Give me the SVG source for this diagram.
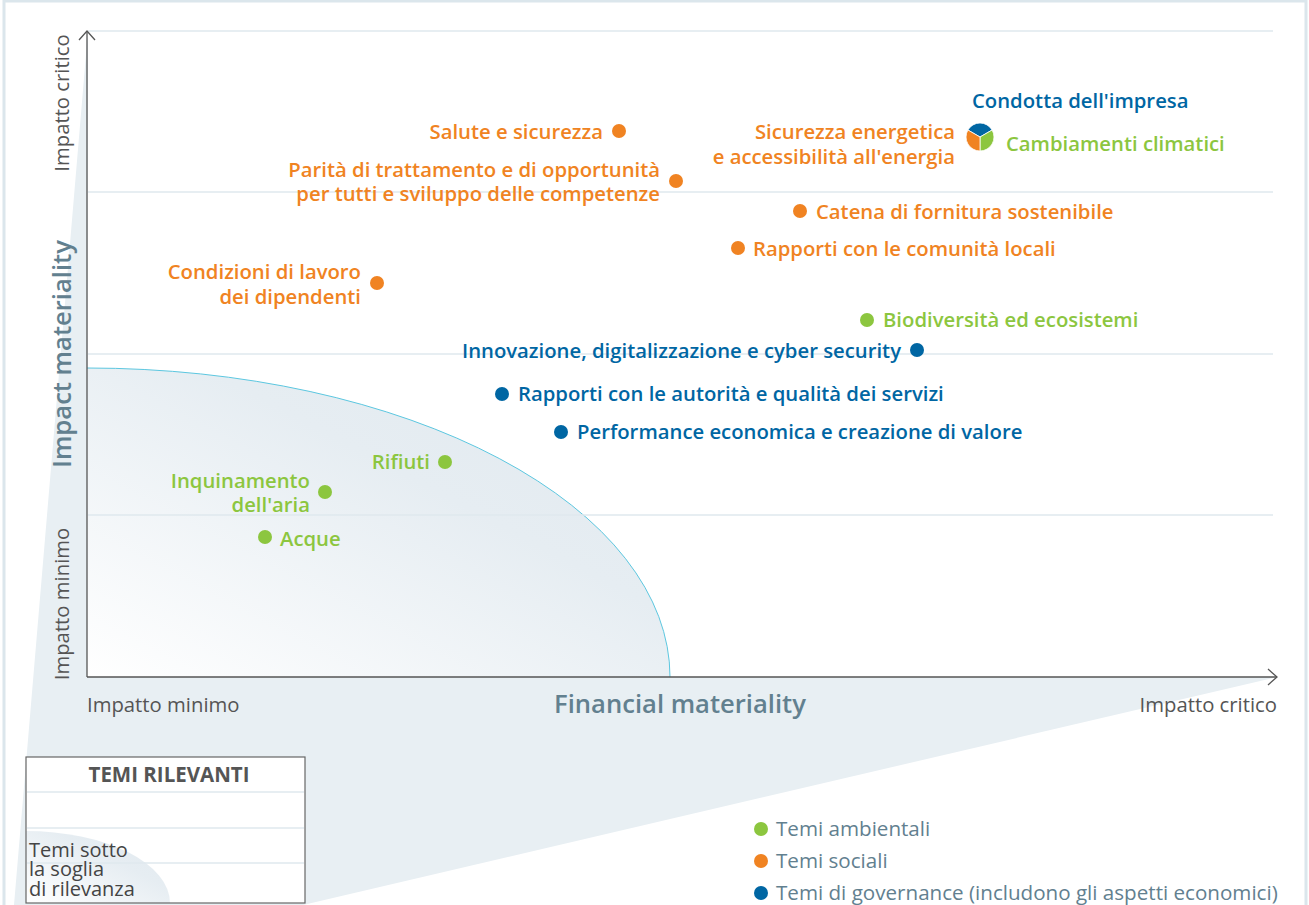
<svg xmlns="http://www.w3.org/2000/svg" width="1309" height="905" viewBox="0 0 1309 905">
<defs>
<linearGradient id="gz" x1="0" y1="1" x2="1" y2="0">
<stop offset="0" stop-color="#ffffff"/>
<stop offset="0.6" stop-color="#e6edf2"/>
<stop offset="1" stop-color="#e1e9ef"/>
</linearGradient>
<style>
.lbl{font-family:"Open Sans","Liberation Sans",sans-serif;font-size:20.3px;font-weight:600}
.o{fill:#f08322}.g{fill:#8cc63f}.b{fill:#0066a3}
.tick{font-family:"Open Sans","Liberation Sans",sans-serif;font-size:20.3px;fill:#555}
.ttl{font-family:"Open Sans","Liberation Sans",sans-serif;font-size:25.6px;font-weight:600;fill:#62808f}
.leg{font-family:"Open Sans","Liberation Sans",sans-serif;font-size:20.6px;fill:#62808f}
.grid{stroke:#dfe8ee;stroke-width:1.5}
.axis{stroke:#555;stroke-width:1.3;fill:none}
.box{font-family:"Open Sans","Liberation Sans",sans-serif;font-size:20px;fill:#444}
</style>
</defs>
<rect width="1309" height="905" fill="#fff"/>
<!-- frame -->
<path d="M4,905 V1 H1306 V905" fill="none" stroke="#dbe6ec" stroke-width="3"/>
<!-- background wedges -->
<polygon points="88,31 14,905 303,905 1277,677 87,677" fill="#e8eff3"/>
<!-- grid -->
<g id="grid">
<line class="grid" x1="88" y1="31" x2="1273" y2="31"/>
<line class="grid" x1="88" y1="192" x2="1273" y2="192"/>
<line class="grid" x1="88" y1="354" x2="1273" y2="354"/>
</g>
<!-- threshold zone -->
<path d="M87,368 A583,309 0 0 1 670,677 L87,677 Z" fill="url(#gz)" stroke="none"/>
<path d="M87,368 A583,309 0 0 1 670,677" fill="none" stroke="#5cc7e0" stroke-width="1"/>
<line class="grid" x1="88" y1="515" x2="1273" y2="515"/>
<!-- axes -->
<g id="axes">
<line class="axis" x1="87" y1="31" x2="87" y2="677"/>
<line class="axis" x1="87" y1="677" x2="1277" y2="677"/>
<polyline class="axis" points="79,40 87,31 95,40"/>
<polyline class="axis" points="1268,669 1277,677 1268,685"/>
</g>
<!-- axis labels -->
<text class="tick" transform="translate(69,103) rotate(-90)" text-anchor="middle">Impatto critico</text>
<text class="ttl" transform="translate(71,354) rotate(-90)" text-anchor="middle">Impact materiality</text>
<text class="tick" transform="translate(69,604) rotate(-90)" text-anchor="middle">Impatto minimo</text>
<text class="tick" x="87" y="712">Impatto minimo</text>
<text class="ttl" x="680" y="713" text-anchor="middle">Financial materiality</text>
<text class="tick" x="1277" y="712" text-anchor="end">Impatto critico</text>

<!-- nodes -->
<g id="n-salute"><circle class="o" cx="619" cy="131" r="7"/><text class="lbl o" x="603" y="139" text-anchor="end">Salute e sicurezza</text></g>
<g id="n-parita"><circle class="o" cx="676" cy="181" r="7"/><text class="lbl o" x="660" y="177" text-anchor="end">Parità di trattamento e di opportunità</text><text class="lbl o" x="660" y="201" text-anchor="end">per tutti e sviluppo delle competenze</text></g>
<g id="n-sicurezza"><text class="lbl o" x="955" y="139" text-anchor="end">Sicurezza energetica</text><text class="lbl o" x="955" y="164" text-anchor="end">e accessibilità all'energia</text></g>
<g id="n-pie">
<path d="M980,137 L967.88,130 A14,14 0 0 1 992.12,130 Z" fill="#0066a3" stroke="#fff" stroke-width="0.8"/>
<path d="M980,137 L992.12,130 A14,14 0 0 1 980,151 Z" fill="#8cc63f" stroke="#fff" stroke-width="0.8"/>
<path d="M980,137 L980,151 A14,14 0 0 1 967.88,130 Z" fill="#f08322" stroke="#fff" stroke-width="0.8"/>
</g>
<g id="n-condotta"><text class="lbl b" x="972" y="108">Condotta dell'impresa</text></g>
<g id="n-clima"><text class="lbl g" x="1006" y="151">Cambiamenti climatici</text></g>
<g id="n-catena"><circle class="o" cx="800" cy="211" r="7"/><text class="lbl o" x="816" y="219">Catena di fornitura sostenibile</text></g>
<g id="n-comunita"><circle class="o" cx="738" cy="248" r="7"/><text class="lbl o" x="753" y="256">Rapporti con le comunità locali</text></g>
<g id="n-condizioni"><circle class="o" cx="377" cy="283" r="7"/><text class="lbl o" x="361" y="279" text-anchor="end">Condizioni di lavoro</text><text class="lbl o" x="361" y="304" text-anchor="end">dei dipendenti</text></g>
<g id="n-biodiv"><circle class="g" cx="867" cy="320" r="7"/><text class="lbl g" x="883" y="327">Biodiversità ed ecosistemi</text></g>
<g id="n-innov"><circle class="b" cx="917" cy="350" r="7"/><text class="lbl b" x="901" y="358" text-anchor="end">Innovazione, digitalizzazione e cyber security</text></g>
<g id="n-autorita"><circle class="b" cx="502" cy="394" r="7"/><text class="lbl b" x="518" y="401">Rapporti con le autorità e qualità dei servizi</text></g>
<g id="n-perf"><circle class="b" cx="561" cy="432" r="7"/><text class="lbl b" x="577" y="439">Performance economica e creazione di valore</text></g>
<g id="n-rifiuti"><circle class="g" cx="445" cy="462" r="7"/><text class="lbl g" x="430" y="469" text-anchor="end">Rifiuti</text></g>
<g id="n-aria"><circle class="g" cx="325" cy="492" r="7"/><text class="lbl g" x="310" y="488" text-anchor="end">Inquinamento</text><text class="lbl g" x="310" y="512" text-anchor="end">dell'aria</text></g>
<g id="n-acque"><circle class="g" cx="265" cy="537" r="7"/><text class="lbl g" x="280" y="546">Acque</text></g>

<!-- legend box -->
<g id="legend-box">
<rect x="26" y="757" width="279" height="146" fill="#fff"/>
<path d="M26,831 A144,72 0 0 1 170,903 L26,903 Z" fill="url(#gz)"/>
<line class="grid" x1="27" y1="792" x2="304" y2="792"/>
<line class="grid" x1="27" y1="828" x2="304" y2="828"/>
<line class="grid" x1="27" y1="863" x2="304" y2="863"/>
<rect x="26" y="757" width="279" height="146" fill="none" stroke="#666" stroke-width="1.2"/>
<text x="169" y="782" text-anchor="middle" style="font-family:'Open Sans','Liberation Sans',sans-serif;font-size:20.5px;font-weight:700;fill:#555">TEMI RILEVANTI</text>
<text class="box" x="29" y="857">Temi sotto</text>
<text class="box" x="29" y="876">la soglia</text>
<text class="box" x="29" y="896">di rilevanza</text>
</g>
<!-- legend -->
<g id="legend">
<circle class="g" cx="761" cy="829" r="7"/><text class="leg" x="776" y="836">Temi ambientali</text>
<circle class="o" cx="761" cy="861" r="7"/><text class="leg" x="776" y="868">Temi sociali</text>
<circle class="b" cx="761" cy="893" r="7"/><text class="leg" x="776" y="900">Temi di governance (includono gli aspetti economici)</text>
</g>
</svg>
